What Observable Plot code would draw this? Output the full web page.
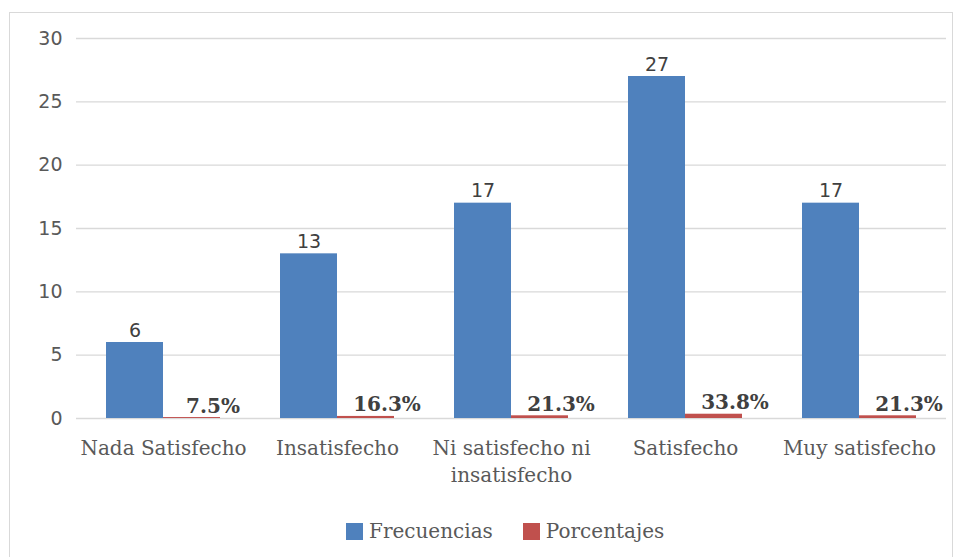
<!DOCTYPE html>
<html>
<head>
<meta charset="utf-8">
<script src="https://cdn.jsdelivr.net/npm/d3@7"></script>
<script src="https://cdn.jsdelivr.net/npm/@observablehq/plot@0.6"></script>
<style>
  html, body { margin: 0; padding: 0; background: white; }
  #frame { position: absolute; left: 9px; top: 12px; width: 942px; height: 545px; border: 1px solid #d9d9d9; background: white; box-sizing: content-box; }
  #legend { position: absolute; left: 336px; top: 506px; display: flex; align-items: center; font-family: "DejaVu Serif"; font-size: 20px; color: #595959; }
  .item { display: flex; align-items: center; margin-right: 30px; }
  .sw { width: 17px; height: 17px; margin-right: 6px; }
</style>
</head>
<body>
<div id="frame"><div id="chart"></div><div id="legend"></div></div>
<script>
const categories = ["Nada Satisfecho", "Insatisfecho", "Ni satisfecho ni\ninsatisfecho", "Satisfecho", "Muy satisfecho"];
const series = ["Frecuencias", "Porcentajes"];
const frecuencias = [6, 13, 17, 27, 17];
const porcentajes = [0.075, 0.163, 0.213, 0.338, 0.213];
const yTicks = [0, 5, 10, 15, 20, 25, 30];
const colors = ["#4F81BD", "#C0504D"];

const rows = [];
categories.forEach((c, i) => {
  rows.push({cat: c, series: series[0], value: frecuencias[i]});
  rows.push({cat: c, series: series[1], value: porcentajes[i]});
});
const blue = rows.filter(d => d.series === series[0]);
const red = rows.filter(d => d.series === series[1]);

const chart = Plot.plot({
  width: 942,
  height: 490,
  marginLeft: 66,
  marginRight: 6,
  marginTop: 25,
  marginBottom: 85,
  style: {fontFamily: "DejaVu Serif", fontSize: "20px", color: "#595959", background: "white", overflow: "visible"},
  fx: {domain: categories, padding: 0, label: null},
  x: {domain: series, paddingInner: 0, paddingOuter: 0.52, axis: null},
  y: {domain: [0, 30], label: null},
  color: {domain: series, range: colors},
  marks: [
    Plot.ruleY(yTicks, {stroke: "#d9d9d9", strokeWidth: 1.3}),
    Plot.axisY(yTicks, {tickSize: 0, tickPadding: 14, fontFamily: "DejaVu Sans", fontSize: 19, fill: "#595959", label: null}),
    Plot.axisFx({anchor: "bottom", tickSize: 0, tickPadding: 17, lineHeight: 1.35, fontSize: 20, fill: "#595959", label: null}),
    Plot.barY(rows, {fx: "cat", x: "series", y: "value", fill: "series"}),
    Plot.text(blue, {fx: "cat", x: "series", y: "value", text: d => String(d.value), lineAnchor: "bottom", dy: -6, fontFamily: "DejaVu Sans", fontSize: 19, fill: "#404040"}),
    Plot.text(red, {fx: "cat", x: "series", y: "value", text: d => d3.format(".1%")(d.value), lineAnchor: "bottom", dy: -5, dx: 21, fontFamily: "DejaVu Serif", fontWeight: "bold", fontSize: 20, fill: "#404040"})
  ]
});
document.getElementById("chart").appendChild(chart);

const legend = document.getElementById("legend");
series.forEach((s, i) => {
  const it = document.createElement("div");
  it.className = "item";
  const sw = document.createElement("div");
  sw.className = "sw";
  sw.style.background = colors[i];
  const t = document.createElement("span");
  t.textContent = s;
  it.appendChild(sw); it.appendChild(t);
  legend.appendChild(it);
});
</script>
</body>
</html>
